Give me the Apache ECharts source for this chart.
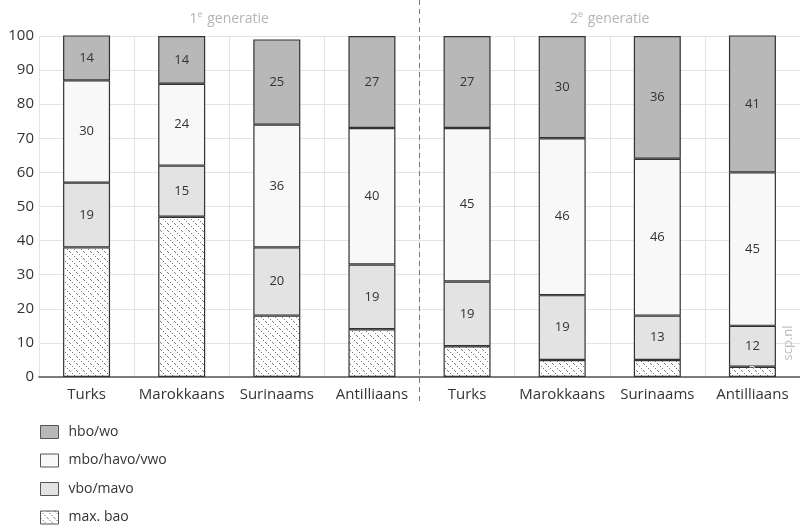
<!DOCTYPE html>
<html><head><meta charset="utf-8">
<script src="https://cdn.jsdelivr.net/npm/echarts@6/dist/echarts.min.js"></script>
<style>html,body{margin:0;padding:0;background:#fff}#c{width:800px;height:525px}</style>
</head><body><div id="c"></div>
<script>
const categories = ['Turks','Marokkaans','Surinaams','Antilliaans','Turks','Marokkaans','Surinaams','Antilliaans'];
const maxBao     = [38, 47, 18, 14, 9, 5, 5, 3];
const vboMavo    = [19, 15, 20, 19, 19, 19, 13, 12];
const mboHavoVwo = [30, 24, 36, 40, 45, 46, 46, 45];
const hboWo      = [14, 14, 25, 27, 27, 30, 36, 41];
const groupTitles = ['1{s|e} generatie', '2{s|e} generatie'];
const seriesNames = ['hbo/wo', 'mbo/havo/vwo', 'vbo/mavo', 'max. bao'];
const yTicks = {min: 0, max: 100, interval: 10};

const FONT = '"Open Sans", "Noto Sans", sans-serif';

// hatch pattern
const pc = document.createElement('canvas');
pc.width = 7; pc.height = 7;
const px = pc.getContext('2d');
px.fillStyle = '#fff'; px.fillRect(0,0,7,7);
px.fillStyle = '#7a7a7a';
for (let i = 0; i < 7; i += 2) px.fillRect(i, i, 1, 1);
const hatch = {image: pc, repeat: 'repeat'};

const chart = echarts.init(document.getElementById('c'), null, {renderer: 'canvas'});
const border = {borderColor: '#333', borderWidth: 1.2};
function mk(name, data, color, labelFn) {
  return {
    name, type: 'bar', stack: 'a', barWidth: 47, clip: true,
    itemStyle: Object.assign({color}, border),
    label: {show: true, position: 'inside', fontSize: 13, color: '#333', fontFamily: FONT},
    emphasis: {disabled: true},
    data: data.map((v, i) => labelFn ? labelFn(v, i) : v)
  };
}
const series = [
  mk(seriesNames[3], maxBao, hatch, (v, i) => ({value: v, label: {show: i === maxBao.length - 1, color: '#fff', fontSize: 12}})),
  mk(seriesNames[2], vboMavo, '#e3e3e3'),
  mk(seriesNames[1], mboHavoVwo, '#f8f8f8'),
  mk(seriesNames[0], hboWo, '#b8b8b8')
];

chart.setOption({
  animation: false,
  textStyle: {fontFamily: FONT},
  grid: {left: 39, right: -5, top: 36, bottom: 148, containLabel: false},
  legend: {
    orient: 'vertical', left: 40, top: 424, padding: 0, height: 140,
    itemWidth: 18, itemHeight: 13, itemGap: 12.5,
    icon: 'rect', data: seriesNames,
    itemStyle: {borderColor: '#555', borderWidth: 1},
    textStyle: {fontSize: 14, lineHeight: 16, color: '#333', fontFamily: FONT, padding: [0, 0, 0, 5]}, selectedMode: false
  },
  xAxis: {
    type: 'category', data: categories,
    axisLine: {lineStyle: {color: '#555', width: 1.5}},
    axisTick: {alignWithLabel: true, length: 5, lineStyle: {color: '#333'}},
    axisLabel: {interval: 0, fontSize: 15, color: '#333', margin: 10, fontFamily: FONT},
    splitLine: {show: true, interval: 0, lineStyle: {color: '#e4e4e4', width: 1}}
  },
  yAxis: {
    type: 'value', min: yTicks.min, max: yTicks.max, interval: yTicks.interval,
    axisLine: {show: false}, axisTick: {show: false},
    axisLabel: {fontSize: 15, color: '#333', margin: 5, fontFamily: FONT},
    splitLine: {lineStyle: {color: '#e4e4e4', width: 1}}
  },
  series
});

const xc = i => chart.convertToPixel({xAxisIndex: 0}, i);
const divX = (xc(3) + xc(4)) / 2;
const g1 = (xc(1) + xc(2)) / 2, g2 = (xc(5) + xc(6)) / 2;
const yTop = chart.convertToPixel({yAxisIndex: 0}, 100);
const titleStyle = (t) => ({
  text: t, fill: '#b5b5b5', font: '14px ' + FONT, align: 'center', verticalAlign: 'middle',
  rich: {s: {fontSize: 9, fill: '#b5b5b5', verticalAlign: 'top', padding: [0,1,8,0]}}
});
chart.setOption({
  graphic: [
    {type: 'line', shape: {x1: divX, y1: 0, x2: divX, y2: 405}, style: {stroke: '#777', lineDash: [5, 4], lineWidth: 1}, z: 100},
    {type: 'text', x: g1, y: yTop - 17, style: titleStyle(groupTitles[0])},
    {type: 'text', x: g2, y: yTop - 17, style: titleStyle(groupTitles[1])},
    {type: 'text', x: 788, y: 343, rotation: Math.PI / 2, style: {text: 'scp.nl', fill: '#bbb', font: '13px ' + FONT, align: 'center', verticalAlign: 'middle'}}
  ]
});
</script></body></html>
